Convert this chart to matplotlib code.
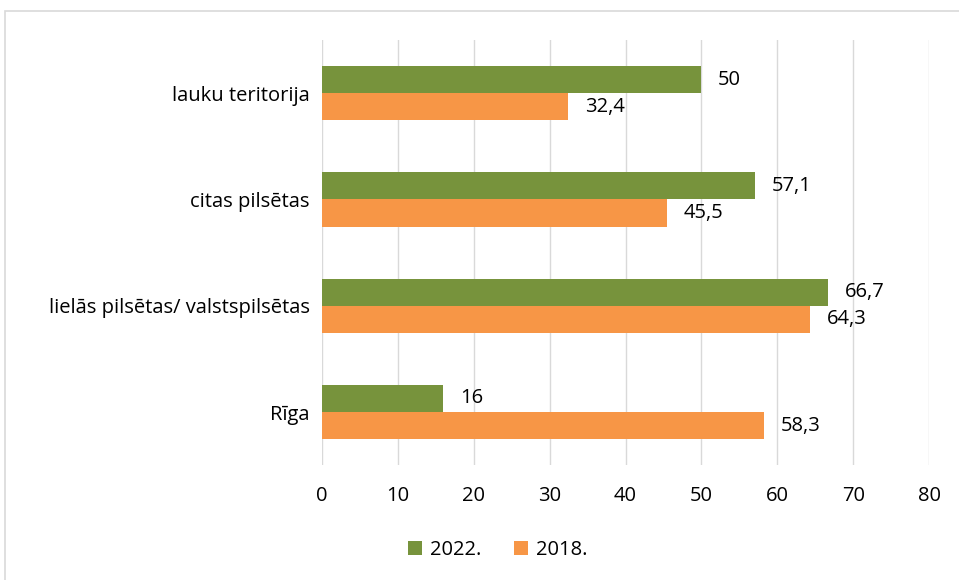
import numpy as np
import matplotlib.pyplot as plt
from matplotlib.patches import Rectangle

categories = ["Rīga", "lielās pilsētas/ valstspilsētas", "citas pilsētas", "lauku teritorija"]
vals_2022 = [16, 66.7, 57.1, 50]
vals_2018 = [58.3, 64.3, 45.5, 32.4]
labels_2022 = ["16", "66,7", "57,1", "50"]
labels_2018 = ["58,3", "64,3", "45,5", "32,4"]

green = "#77933C"
orange = "#F79646"
grid_col = "#D9D9D9"

plt.rcParams['font.family'] = ['Open Sans', 'DejaVu Sans']
fs = 14.5

fig = plt.figure(figsize=(9.59, 5.8), dpi=100)
ax = fig.add_axes([0.3358, 0.198, 0.633, 0.733])

y = np.arange(len(categories))
h = 0.255
b1 = ax.barh(y + h / 2, vals_2022, height=h, color=green, label="2022.", zorder=2)
b2 = ax.barh(y - h / 2, vals_2018, height=h, color=orange, label="2018.", zorder=2)

for bar, lab in zip(b1, labels_2022):
    ax.text(bar.get_width() + 2.2, bar.get_y() + bar.get_height() / 2, lab,
            va="center", ha="left", fontsize=fs)
for bar, lab in zip(b2, labels_2018):
    ax.text(bar.get_width() + 2.2, bar.get_y() + bar.get_height() / 2, lab,
            va="center", ha="left", fontsize=fs)

ax.set_xlim(0, 80)
ax.set_ylim(-0.5, 3.5)
ax.set_xticks(range(0, 81, 10))
ax.set_yticks(y)
ax.set_yticklabels(categories)
ax.tick_params(length=0, labelsize=fs)
ax.tick_params(axis="x", pad=15)
ax.tick_params(axis="y", pad=9)
ax.grid(axis="x", color=grid_col, linewidth=1, zorder=0)
for s in ax.spines.values():
    s.set_visible(False)

fig.legend(loc="center", bbox_to_anchor=(498 / 959, 1 - 550 / 580),
           ncol=2, frameon=False, fontsize=fs, handlelength=0.7, handleheight=0.7,
           handletextpad=0.4, columnspacing=1.6)

fig.patches.append(Rectangle((5 / 959, -0.1), 1.1, 1 - 11 / 580 + 0.1, transform=fig.transFigure,
                             fill=False, edgecolor=grid_col, linewidth=1.2))

fig.savefig("out.png", dpi=100)
